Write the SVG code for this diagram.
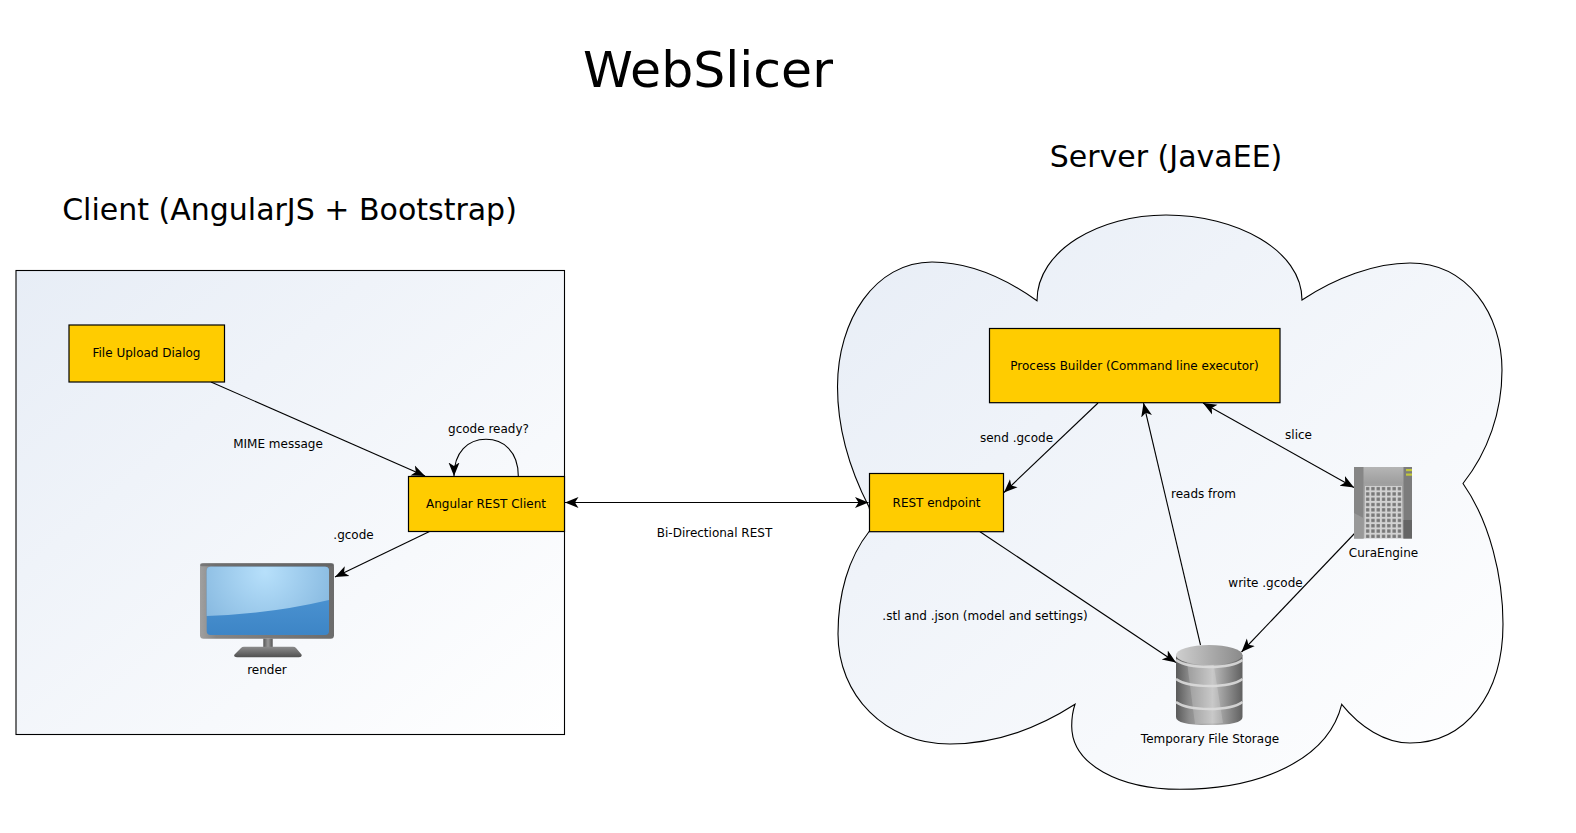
<svg xmlns="http://www.w3.org/2000/svg" width="1576" height="833" viewBox="0 0 1576 833">
<style>
text{font-family:"DejaVu Sans",sans-serif;fill:#000}
.l{font-size:12px;text-anchor:middle}
.t{font-size:30px;text-anchor:middle}
.box{fill:#ffcc00;stroke:#000;stroke-width:1.2}
.c{fill:none;stroke:#000;stroke-width:1.1}
.band{fill:none;stroke:#dcdcdc;stroke-width:2.6;opacity:.9}
</style>
<defs>
<linearGradient id="bg" x1="0" y1="0" x2="1" y2="1"><stop offset="0" stop-color="#e7edf6"/><stop offset="1" stop-color="#ffffff"/></linearGradient>
<marker id="a" markerUnits="userSpaceOnUse" markerWidth="16" markerHeight="13" refX="13.5" refY="6.5" orient="auto-start-reverse"><path d="M0 1L13.5 6.5L0 12L3.5 6.5Z" fill="#000"/></marker>
<radialGradient id="scr" gradientUnits="userSpaceOnUse" cx="265" cy="572" r="75"><stop offset="0" stop-color="#b7e0fb"/><stop offset="1" stop-color="#86b8df"/></radialGradient>
<linearGradient id="scr2" x1="0" y1="0" x2="0" y2="1"><stop offset="0" stop-color="#559cd9"/><stop offset="1" stop-color="#3d85c6"/></linearGradient>
<linearGradient id="fr" x1="0" y1="0" x2="1" y2="0"><stop offset="0" stop-color="#a0a0a0"/><stop offset="0.12" stop-color="#858585"/><stop offset="1" stop-color="#6c6c6c"/></linearGradient>
<linearGradient id="neck" x1="0" y1="0" x2="1" y2="0"><stop offset="0" stop-color="#555"/><stop offset="0.5" stop-color="#999"/><stop offset="1" stop-color="#555"/></linearGradient>
<linearGradient id="base" x1="0" y1="0" x2="0" y2="1"><stop offset="0" stop-color="#8c8c8c"/><stop offset="1" stop-color="#505050"/></linearGradient>
<linearGradient id="cyl" x1="0" y1="0" x2="1" y2="0"><stop offset="0" stop-color="#5a5a5a"/><stop offset="0.2" stop-color="#8c8c8c"/><stop offset="0.55" stop-color="#bdbdbd"/><stop offset="1" stop-color="#606060"/></linearGradient>
<linearGradient id="cylt" x1="0" y1="0" x2="1" y2="0"><stop offset="0" stop-color="#cfcfcf"/><stop offset="1" stop-color="#8a8a8a"/></linearGradient>
<linearGradient id="srv" x1="0" y1="0" x2="0" y2="1"><stop offset="0" stop-color="#b5b5b5"/><stop offset="0.22" stop-color="#9f9f9f"/><stop offset="1" stop-color="#c4c4c4"/></linearGradient>
<pattern id="win" width="5.300" height="5.300" patternUnits="userSpaceOnUse" x="1365" y="486"><rect width="5.300" height="5.300" fill="#d2d2d2"/><rect x="1" y="1" width="3.300" height="3.300" fill="#777"/></pattern>
</defs>
<text x="708" y="86.500" font-size="50.500" text-anchor="middle">WebSlicer</text>
<text class="t" x="1166" y="166.500">Server (JavaEE)</text>
<text class="t" x="289.500" y="220">Client (AngularJS + Bootstrap)</text>
<g id="client"><rect x="16" y="270.500" width="548.500" height="464" fill="url(#bg)" stroke="#000" stroke-width="1.100"/></g>
<g id="server"><path d="M1037 300.700C1037 250 1100 215 1166 215C1236 215 1302 250 1302 300C1335 278 1375 263 1410 263C1468 263 1502 315 1502 370C1502 412 1488 452 1463 483.500C1490 522 1503 577 1503 624C1503 695 1465 743 1410 743C1385 743 1360 727 1341.700 704.300C1328 760 1260 789.300 1180 789.300C1120 789 1071.700 765 1071.700 726Q1071.700 714 1075 704.300C1035 730 995 744 950 744C885 744 838 695 838 634C838 595 848 558 869.500 531L872 520L869 507C850 470 837.500 430 837.500 386.700C837.500 320 875 262 932 262C970 262 1005 278 1037 300.700Z" fill="url(#bg)" stroke="#000" stroke-width="1.100"/></g>
<g id="connectors">
<path class="c" marker-end="url(#a)" d="M211 382L425 476"/>
<path class="c" marker-end="url(#a)" d="M518.300 476C518.300 451 503 439.300 486 439.300C468 439.300 454 452 454 476"/>
<path class="c" marker-end="url(#a)" d="M429.500 531.500L335 577"/>
<path class="c" marker-start="url(#a)" marker-end="url(#a)" d="M565 502.500L868.500 502.500"/>
<path class="c" marker-end="url(#a)" d="M1098 403L1004 492.500"/>
<path class="c" marker-end="url(#a)" d="M980 531.700L1176 662.500"/>
<path class="c" marker-end="url(#a)" d="M1200.500 645L1143.500 403"/>
<path class="c" marker-start="url(#a)" marker-end="url(#a)" d="M1203 403L1354 487.500"/>
<path class="c" marker-end="url(#a)" d="M1354.500 533.500L1241.500 652"/>
</g>
<g id="upload"><rect class="box" x="69" y="325" width="155.500" height="57"/><text class="l" x="146.500" y="357">File Upload Dialog</text></g>
<g id="rest-client"><rect class="box" x="408.500" y="476.500" width="156" height="55"/><text class="l" x="486" y="508">Angular REST Client</text></g>
<g id="process"><rect class="box" x="989.500" y="328.500" width="290.500" height="74.200"/><text class="l" x="1134.500" y="370">Process Builder (Command line executor)</text></g>
<g id="rest-endpoint"><rect class="box" x="869.500" y="473.500" width="134" height="58.200"/><text class="l" x="936.500" y="507">REST endpoint</text></g>
<g id="monitor">
<rect x="200" y="563.300" width="134" height="75.400" rx="3.500" fill="url(#fr)"/>
<rect x="200" y="563.300" width="134" height="3" rx="1.500" fill="#5f5f5f" opacity="0.6"/>
<rect x="206.700" y="566.700" width="122.300" height="68.300" rx="4" fill="url(#scr2)"/>
<path d="M206.700 616L206.700 570.700Q206.700 566.700 210.700 566.700L325 566.700Q329 566.700 329 570.700L329 600Q270 614 206.700 616Z" fill="url(#scr)"/>
<rect x="263.300" y="638.700" width="9.400" height="9" fill="url(#neck)"/>
<path d="M237 657.300Q233 657.300 234.500 654.500L241 648Q242 646.700 244 646.700L293 646.700Q295 646.700 296 648L301.500 654.500Q302.500 657.300 299 657.300Z" fill="url(#base)"/>
<text class="l" x="267" y="674">render</text>
</g>
<g id="storage">
<path d="M1176 655L1176 717Q1176 725 1209 725Q1242.500 725 1242.500 717L1242.500 655Z" fill="url(#cyl)"/>
<path d="M1186.700 660L1195 724L1223 723L1213 660Z" fill="#fff" opacity="0.18"/>
<ellipse cx="1209.200" cy="655" rx="33.300" ry="10" fill="url(#cylt)"/>
<path class="band" d="M1176 660Q1186 667 1209 667Q1233 667 1242.500 660"/>
<path class="band" d="M1176 679Q1186 686 1209 686Q1233 686 1242.500 679"/>
<path class="band" d="M1176 702Q1186 709 1209 709Q1233 709 1242.500 702"/>
<text class="l" x="1210" y="743">Temporary File Storage</text>
</g>
<g id="cura">
<rect x="1363" y="467" width="41" height="71.500" fill="url(#srv)"/>
<path d="M1354 467H1363.500V538.500H1354Z" fill="#868686"/>
<path d="M1354 513L1363.500 518V538.500H1354Z" fill="#999"/>
<rect x="1403.500" y="467" width="8.500" height="71.500" fill="#7c7c7c"/>
<rect x="1403.500" y="520" width="8.500" height="18.500" fill="#656565"/>
<rect x="1406" y="469" width="6" height="2.200" fill="#c2c83a"/><rect x="1406" y="473.500" width="6" height="2.200" fill="#c2c83a"/>
<rect x="1365" y="486" width="37" height="52" fill="url(#win)"/>
<text class="l" x="1383.500" y="557">CuraEngine</text>
</g>
<g id="labels">
<text class="l" x="278" y="448">MIME message</text>
<text class="l" x="488.500" y="433">gcode ready?</text>
<text class="l" x="353.500" y="539">.gcode</text>
<text class="l" x="714.500" y="537">Bi-Directional REST</text>
<text class="l" x="1016.500" y="442">send .gcode</text>
<text class="l" x="1298.500" y="439">slice</text>
<text class="l" x="1203.500" y="498">reads from</text>
<text class="l" x="1265.500" y="587">write .gcode</text>
<text class="l" x="985" y="620">.stl and .json (model and settings)</text>
</g>
</svg>
